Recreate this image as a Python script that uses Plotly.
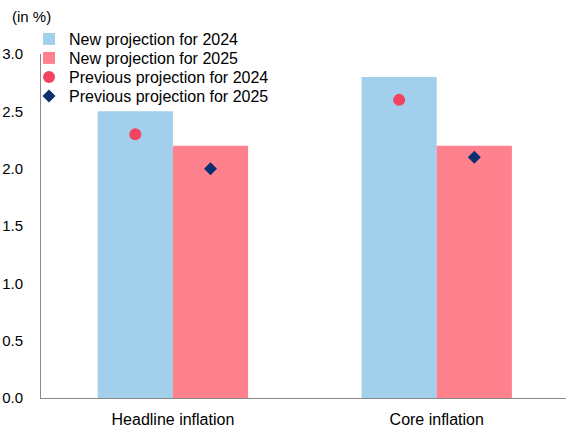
import plotly.graph_objects as go

categories = ["Headline inflation", "Core inflation"]
new_2024 = [2.5, 2.8]
new_2025 = [2.2, 2.2]
prev_2024 = [2.3, 2.6]
prev_2025 = [2.0, 2.1]
y_ticks = [0.0, 0.5, 1.0, 1.5, 2.0, 2.5, 3.0]

FONT = "Liberation Sans, Arial, sans-serif"

fig = go.Figure()
fig.add_trace(go.Bar(x=categories, y=new_2024, name="New projection for 2024",
                     marker=dict(color="#A2CFEB", line=dict(width=0)), offsetgroup="a",
                     legend="legend"))
fig.add_trace(go.Bar(x=categories, y=new_2025, name="New projection for 2025",
                     marker=dict(color="#FF818E", line=dict(width=0)), offsetgroup="b",
                     legend="legend2"))
fig.add_trace(go.Scatter(x=categories, y=prev_2024, name="Previous projection for 2024",
                         mode="markers", offsetgroup="a", legend="legend3",
                         marker=dict(symbol="circle", size=12, color="#F2435F")))
fig.add_trace(go.Scatter(x=categories, y=prev_2025, name="Previous projection for 2025",
                         mode="markers", offsetgroup="b", legend="legend4",
                         marker=dict(symbol="diamond", size=10, color="#0B2F6F")))

W, H = 566, 428
def leg(i):
    return dict(xref="container", yref="container", x=29/W, y=1 - (39 + 19*i)/H,
                xanchor="left", yanchor="middle", bgcolor="rgba(0,0,0,0)",
                font=dict(size=16, family=FONT, color="#000000"))

fig.update_layout(
    width=W, height=H,
    margin=dict(l=41, r=0, t=54, b=30, autoexpand=False),
    plot_bgcolor="white", paper_bgcolor="white",
    font=dict(family=FONT, size=16, color="#000000"),
    barmode="group", bargap=0.43, bargroupgap=0,
    scattermode="group", scattergap=0.43,
    showlegend=True,
    legend=leg(0), legend2=leg(1), legend3=leg(2), legend4=leg(3),
    xaxis=dict(type="category", range=[-0.5, 1.49], showline=True, linecolor="#898989",
               linewidth=1, ticks="", showgrid=False, zeroline=False,
               tickfont=dict(size=16), automargin=False, ticklabelstandoff=7),
    yaxis=dict(range=[0, 3.0], tickvals=y_ticks, tickformat=".1f",
               showline=True, linecolor="#898989", linewidth=1, ticks="",
               showgrid=False, zeroline=False, tickfont=dict(size=15),
               ticklabelstandoff=14, automargin=False),
    annotations=[dict(text="(in %)", xref="paper", yref="paper", x=-31/525, y=1 + 38/344,
                      xanchor="left", yanchor="middle", showarrow=False,
                      font=dict(size=15, family=FONT))],
)

fig.write_html("out.html", config={"displayModeBar": False},
               post_script="document.body.style.margin='0';")
